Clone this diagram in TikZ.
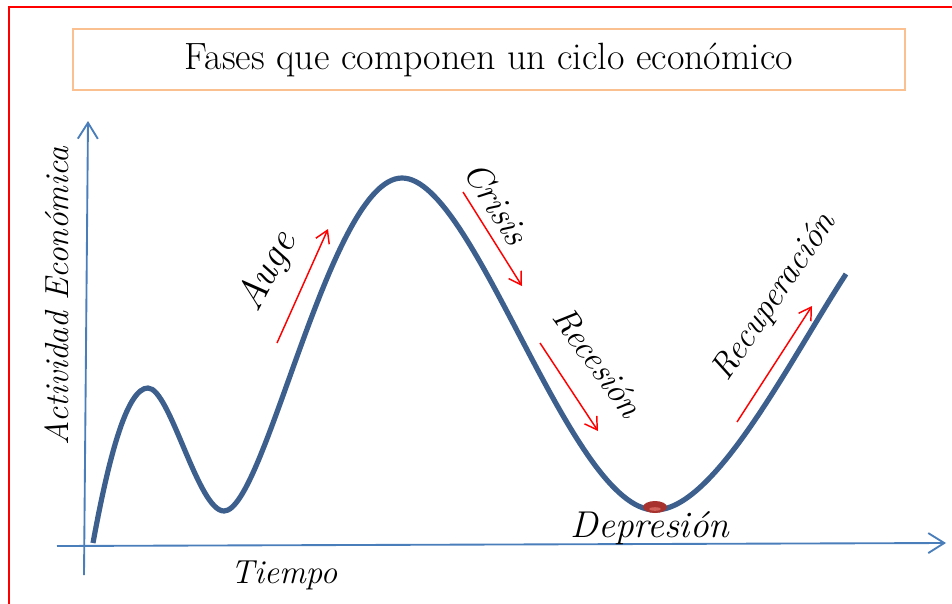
\documentclass[tikz,border=0pt]{standalone}
\usepackage{fontspec}
\usetikzlibrary{arrows.meta}
\definecolor{axisblue}{HTML}{4A7EBB}
\definecolor{curveblue}{HTML}{3C5F8D}
\definecolor{titleorange}{HTML}{FAC090}
\definecolor{dotred}{HTML}{A8332E}
\definecolor{dotlight}{HTML}{D0605A}
\tikzset{
  axisline/.style={draw=axisblue, line width=1.4pt, -{Straight Barb[length=12pt,width=15pt,line width=1.4pt]}},
  phasearrow/.style={draw=red, line width=1.1pt, -{Straight Barb[length=9pt,width=11pt,line width=1.1pt]}},
  phaselabel/.style={font=\fontsize{26}{30}\selectfont\itshape, inner sep=0pt},
  axislabel/.style={font=\fontsize{25}{29}\selectfont\itshape, inner sep=0pt},
}
\begin{document}
\begin{tikzpicture}[x=0.75pt,y=-0.75pt]
\useasboundingbox (0,0) rectangle (952,603);
% red frame (cut by the page at right and bottom)
\begin{scope}
\clip (0,0) rectangle (952,603);
\draw[red, line width=2.2pt] (9,7) rectangle (1000,700);
\end{scope}
% title
\node[draw=titleorange, line width=1.5pt, minimum width=832*0.75pt, minimum height=61*0.75pt, inner sep=0pt,
      font=\fontsize{28.5}{32}\selectfont] (title) at (489,59.5) {Fases que componen un ciclo económico};
% axes
\coordinate (ybot) at (84,575);
\coordinate (ytop) at (88,121);
\coordinate (xleft) at (57,546);
\coordinate (xright) at (946,543);
\draw[axisline] (ybot) -- (ytop);
\draw[axisline] (xleft) -- (xright);
% curve
\coordinate (c0) at (93,543);
\coordinate (c1) at (148,388);
\coordinate (c2) at (224,511);
\coordinate (c3) at (402,178);
\coordinate (c4) at (655,510);
\coordinate (c5) at (846,274);
\draw[curveblue, line width=3.9pt]
  (c0) .. controls (110,450) and (128,388) .. (c1)
       .. controls (170,388) and (198,511) .. (c2)
       .. controls (265,511) and (330,178) .. (c3)
       .. controls (475,178) and (570,510) .. (c4)
       .. controls (715,510) and (790,360) .. (c5);
% depression dot
\fill[dotred] (655,507) ellipse [x radius=12*0.75pt, y radius=6*0.75pt];
\fill[dotlight] (655,509) ellipse [x radius=6*0.75pt, y radius=1.8*0.75pt];
% phase arrows
\coordinate (a1s) at (277,343); \coordinate (a1e) at (328,229);
\coordinate (a2s) at (463,192); \coordinate (a2e) at (522,286);
\coordinate (a3s) at (540,343); \coordinate (a3e) at (598,431);
\coordinate (a4s) at (737,422); \coordinate (a4e) at (812,306);
\draw[phasearrow] (a1s) -- (a1e);
\draw[phasearrow] (a2s) -- (a2e);
\draw[phasearrow] (a3s) -- (a3e);
\draw[phasearrow] (a4s) -- (a4e);
% labels
\node[phaselabel, rotate=62, font=\fontsize{30}{34}\selectfont\itshape] (auge) at (268,272) {Auge};
\node[phaselabel, rotate=-58, font=\fontsize{27}{31}\selectfont\itshape] (crisis) at (497,203) {Crisis};
\node[phaselabel, rotate=-54] (recesion) at (598,362) {Recesión};
\node[phaselabel, rotate=56] (recup) at (775,297) {Recuperación};
\node[axislabel, rotate=90] (actividad) at (57,296) {Actividad Económica};
\node[axislabel] (tiempo) at (284,575) {Tiempo};
\node[font=\fontsize{28}{32}\selectfont\itshape, inner sep=0pt] (depresion) at (650,528) {Depresión};
\end{tikzpicture}
\end{document}
